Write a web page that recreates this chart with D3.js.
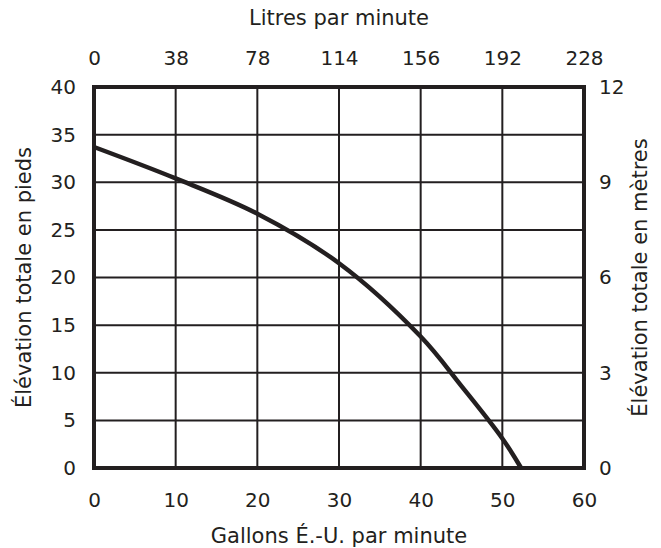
<!DOCTYPE html>
<html>
<head>
<meta charset="utf-8">
<script src="https://cdn.jsdelivr.net/npm/d3@7"></script>
<style>
  body { margin: 0; background: #fff; }
  text { font-family: "DejaVu Sans", Verdana, sans-serif; fill: #231f20; }
</style>
</head>
<body>
<div class="chart"></div>
<script>
// pump curve: gallons per minute vs total head in feet
var gpm = [0, 10, 20, 30, 40, 45, 50, 52.3];
var feet = [33.7, 30.4, 26.7, 21.5, 13.8, 8.6, 3.1, 0];

var gpmTicks = [0, 10, 20, 30, 40, 50, 60];
var litreLabels = ["0", "38", "78", "114", "156", "192", "228"];
var feetTicks = [0, 5, 10, 15, 20, 25, 30, 35, 40];
var metreTicks = [0, 3, 6, 9, 12];

var margin = { top: 87, right: 77, bottom: 80, left: 94 };
var width = 661 - margin.left - margin.right;
var height = 548 - margin.top - margin.bottom;
var tickSize = "20px";
var titleSize = "21px";

var svg = d3.select(".chart")
    .append("svg")
    .attr("width", 661)
    .attr("height", 548)
    .append("g")
    .attr("transform", "translate(" + margin.left + "," + margin.top + ")");

var x = d3.scaleLinear().domain([0, 60]).range([0, width]);
var y = d3.scaleLinear().domain([0, 40]).range([height, 0]);
var yM = d3.scaleLinear().domain([0, 12]).range([height, 0]);

// grid
svg.selectAll(".vgrid")
    .data(gpmTicks.slice(1, -1))
    .enter()
    .append("line")
    .attr("x1", function (d) { return x(d); })
    .attr("x2", function (d) { return x(d); })
    .attr("y1", 0)
    .attr("y2", height)
    .attr("stroke", "#231f20")
    .attr("stroke-width", 2);

svg.selectAll(".hgrid")
    .data(feetTicks.slice(1, -1))
    .enter()
    .append("line")
    .attr("x1", 0)
    .attr("x2", width)
    .attr("y1", function (d) { return y(d); })
    .attr("y2", function (d) { return y(d); })
    .attr("stroke", "#231f20")
    .attr("stroke-width", 2);

// frame
svg.append("rect")
    .attr("x", 0)
    .attr("y", 0)
    .attr("width", width)
    .attr("height", height)
    .attr("fill", "none")
    .attr("stroke", "#231f20")
    .attr("stroke-width", 4);

// curve
var line = d3.line()
    .x(function (d, i) { return x(gpm[i]); })
    .y(function (d) { return y(d); })
    .curve(d3.curveCatmullRom);

svg.append("path")
    .datum(feet)
    .attr("d", line)
    .attr("fill", "none")
    .attr("stroke", "#231f20")
    .attr("stroke-width", 4.5);

// axes (labels only, lines are drawn by the frame)
function styleAxis(g) {
    g.select(".domain").remove();
    g.selectAll(".tick line").remove();
    g.selectAll("text").style("font-size", tickSize).attr("fill", "#231f20");
}

svg.append("g")
    .attr("transform", "translate(0," + height + ")")
    .call(d3.axisBottom(x).tickValues(gpmTicks).tickPadding(19))
    .call(styleAxis);

svg.append("g")
    .call(d3.axisTop(x).tickValues(gpmTicks).tickPadding(16)
        .tickFormat(function (d, i) { return litreLabels[i]; }))
    .call(styleAxis);

svg.append("g")
    .call(d3.axisLeft(y).tickValues(feetTicks).tickPadding(12))
    .call(styleAxis);

svg.append("g")
    .attr("transform", "translate(" + width + ",0)")
    .call(d3.axisRight(yM).tickValues(metreTicks).tickPadding(9))
    .call(styleAxis);

// titles
svg.append("text")
    .attr("x", width / 2)
    .attr("y", -62)
    .style("text-anchor", "middle")
    .style("font-size", titleSize)
    .text("Litres par minute");

svg.append("text")
    .attr("x", width / 2)
    .attr("y", height + 75)
    .style("text-anchor", "middle")
    .style("font-size", titleSize)
    .text("Gallons É.-U. par minute");

svg.append("text")
    .attr("transform", "rotate(-90)")
    .attr("x", -height / 2)
    .attr("y", -63)
    .style("text-anchor", "middle")
    .style("font-size", titleSize)
    .text("Élévation totale en pieds");

svg.append("text")
    .attr("transform", "rotate(-90)")
    .attr("x", -height / 2)
    .attr("y", width + 63)
    .style("text-anchor", "middle")
    .style("font-size", titleSize)
    .text("Élévation totale en mètres");
</script>
</body>
</html>
